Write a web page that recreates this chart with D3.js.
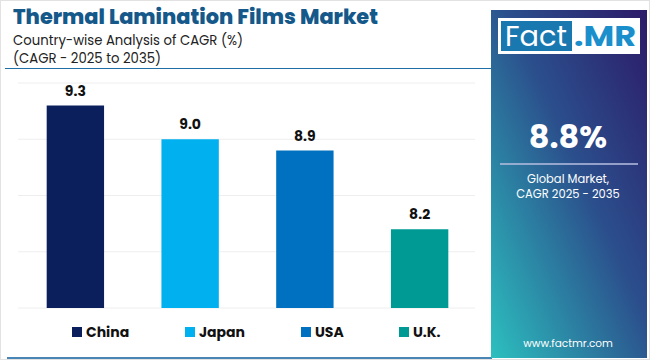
<!DOCTYPE html>
<html><head><meta charset="utf-8">
<script src="https://cdn.jsdelivr.net/npm/d3@7"></script>
<style>
html,body{margin:0;padding:0;background:#fff;}
svg{display:block;}
</style></head>
<body>
<svg id="chart" width="650" height="360"></svg>
<script>
const categories = ["China", "Japan", "USA", "U.K."];
const cagrValues = [9.3, 9.0, 8.9, 8.2];
const barColors = ["#0b1f5c", "#00b0ef", "#0070c0", "#009a94"];
const gridTicks = [7.5, 8.0, 8.5, 9.0, 9.5];
const titleText = "Thermal Lamination Films Market";
const subtitleLines = ["Country-wise Analysis of CAGR (%)", "(CAGR - 2025 to 2035)"];
const globalValue = "8.8%";
const globalLabel = ["Global Market,", "CAGR 2025 - 2035"];

const svg = d3.select("#chart");
const font = "Poppins, 'Open Sans', Lato, sans-serif";

// outer frame
svg.append("rect").attr("x",0.5).attr("y",0.5).attr("width",649).attr("height",359)
  .attr("fill","#fff").attr("stroke","#e2e2e2");

// scales
const x = d3.scaleBand().domain(categories).range([18, 477]).paddingInner(0.5).paddingOuter(0.25);
const y = d3.scaleLinear().domain([7.5, 9.5]).range([308, 83]);

// gridlines
svg.append("g").selectAll("line").data(gridTicks).join("line")
  .attr("x1", 18).attr("x2", 475)
  .attr("y1", d => y(d)).attr("y2", d => y(d))
  .attr("stroke", "#eeeeee").attr("stroke-width", 1);

// bars
svg.append("g").selectAll("rect").data(categories).join("rect")
  .attr("x", d => x(d)).attr("width", x.bandwidth())
  .attr("y", (d,i) => y(cagrValues[i]))
  .attr("height", (d,i) => y.range()[0] - y(cagrValues[i]))
  .attr("fill", (d,i) => barColors[i]);

// value labels
svg.append("g").selectAll("text").data(categories).join("text")
  .attr("x", d => x(d) + x.bandwidth()/2)
  .attr("y", (d,i) => y(cagrValues[i]) - 10)
  .attr("text-anchor","middle")
  .attr("font-family", font).attr("font-weight", 700).attr("font-size", 14)
  .attr("fill","#111")
  .text((d,i) => cagrValues[i].toFixed(1));

// title
svg.append("text").attr("x",13).attr("y",23.5)
  .attr("font-family", font).attr("font-weight",800).attr("font-size",21.5)
  .attr("fill","#15588a")
  .attr("textLength",365).attr("lengthAdjust","spacingAndGlyphs")
  .text(titleText);
svg.append("text").attr("x",13).attr("y",44.5)
  .attr("font-family", font).attr("font-size",13.5).attr("fill","#222")
  .attr("textLength",230).attr("lengthAdjust","spacingAndGlyphs")
  .text(subtitleLines[0]);
svg.append("text").attr("x",13).attr("y",63)
  .attr("font-family", font).attr("font-size",13.5).attr("fill","#222")
  .attr("textLength",148).attr("lengthAdjust","spacingAndGlyphs")
  .text(subtitleLines[1]);

// separator line
svg.append("line").attr("x1",5).attr("x2",492).attr("y1",68.5).attr("y2",68.5)
  .attr("stroke","#1d6fa5").attr("stroke-width",1.2);
// bottom line
svg.append("line").attr("x1",7).attr("x2",492).attr("y1",358).attr("y2",358)
  .attr("stroke","#4a86b5").attr("stroke-width",2);

// legend
const legendX = [72, 185, 301, 399];
const lg = svg.append("g").selectAll("g").data(categories).join("g")
  .attr("transform", (d,i) => `translate(${legendX[i]},327)`);
lg.append("rect").attr("width",10).attr("height",10).attr("fill",(d,i)=>barColors[i]);
lg.append("text").attr("x",14).attr("y",9.5)
  .attr("font-family", font).attr("font-weight",700).attr("font-size",14)
  .attr("fill","#111").text(d=>d);

// right panel
const defs = svg.append("defs");
const grad = defs.append("linearGradient").attr("id","pg")
  .attr("x1","100%").attr("y1","0%").attr("x2","0%").attr("y2","100%");
grad.append("stop").attr("offset","0%").attr("stop-color","#2c1a68");
grad.append("stop").attr("offset","45%").attr("stop-color","#2b4f8c");
grad.append("stop").attr("offset","100%").attr("stop-color","#2cc0bf");
svg.append("rect").attr("x",491).attr("y",10).attr("width",156).attr("height",348)
  .attr("fill","url(#pg)");

// logo
svg.append("rect").attr("x",498).attr("y",18).attr("width",142).attr("height",36).attr("fill","#fff");
svg.append("rect").attr("x",501).attr("y",21).attr("width",71).attr("height",30).attr("fill","#1a78b0");
svg.append("text").attr("x",536).attr("y",46).attr("text-anchor","middle")
  .attr("font-family", font).attr("font-size",28).attr("fill","#fff")
  .attr("textLength",62).attr("lengthAdjust","spacingAndGlyphs").text("Fact");
svg.append("text").attr("x",605).attr("y",46).attr("text-anchor","middle")
  .attr("font-family", font).attr("font-weight",700).attr("font-size",28).attr("fill","#1a8fcc")
  .attr("textLength",62).attr("lengthAdjust","spacingAndGlyphs").text(".MR");

// global value
svg.append("text").attr("x",568).attr("y",148).attr("text-anchor","middle")
  .attr("font-family", font).attr("font-weight",700).attr("font-size",32).attr("fill","#fff")
  .text(globalValue);
svg.append("line").attr("x1",500).attr("x2",638).attr("y1",164).attr("y2",164)
  .attr("stroke","#b8bfe0").attr("stroke-width",1.5);
svg.append("g").selectAll("text").data(globalLabel).join("text")
  .attr("x",568).attr("y",(d,i)=>183+i*14.5).attr("text-anchor","middle")
  .attr("font-family", font).attr("font-size",11.5).attr("fill","#fff").text(d=>d);
svg.append("text").attr("x",568).attr("y",347).attr("text-anchor","middle")
  .attr("font-family", font).attr("font-size",10.5).attr("fill","#fff").text("www.factmr.com");
</script>
</body></html>
